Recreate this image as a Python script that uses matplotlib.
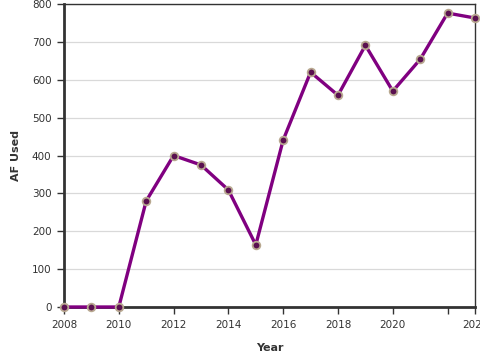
import matplotlib
matplotlib.use("Agg")
import matplotlib.pyplot as plt

years = [2008, 2009, 2010, 2011, 2012, 2013, 2014, 2015, 2016, 2017, 2018, 2019, 2020, 2021, 2022, 2023]
af_used = [0, 0, 0, 280, 400, 375, 309, 164, 441, 620, 559, 691, 570, 654, 776, 763]
x_ticks = [2008, 2010, 2012, 2014, 2016, 2018, 2020, 2022, 2023]
x_tick_labels = ["2008", "2010", "2012", "2014", "2016", "2018", "2020", "", "2023"]
y_ticks = [0, 100, 200, 300, 400, 500, 600, 700, 800]

fig = plt.figure(figsize=(4.8, 3.6), dpi=100)
ax = fig.add_axes([64/480, 1 - 307/360, (475-64)/480, (307-4)/360])

ax.plot(years, af_used, color="#800080", linewidth=2.4, zorder=3, clip_on=False)
ax.plot(years, af_used, linestyle="none", marker="o", markersize=5.5,
        markerfacecolor="#5a1050", markeredgecolor="#b8a890", markeredgewidth=1.3,
        zorder=4, clip_on=False)

ax.set_xlim(2008, 2023)
ax.set_ylim(0, 800)
ax.set_xticks(x_ticks)
ax.set_xticklabels(x_tick_labels)
ax.set_yticks(y_ticks)
ax.yaxis.grid(True, color="#d9d9d9", linewidth=0.9, zorder=0)
ax.set_axisbelow(True)

for s in ["left", "bottom"]:
    ax.spines[s].set_linewidth(2.0)
    ax.spines[s].set_color("#333333")
for s in ["top", "right"]:
    ax.spines[s].set_linewidth(1.0)
    ax.spines[s].set_color("#333333")

ax.tick_params(axis="both", labelsize=7.5, colors="#333333", length=5, width=1.0, pad=4)
ax.set_xlabel("Year", fontsize=8, fontweight="bold", color="#333333", labelpad=10)
ax.set_ylabel("AF Used", fontsize=8, fontweight="bold", color="#333333", labelpad=8)

fig.savefig("out.png", dpi=100)
